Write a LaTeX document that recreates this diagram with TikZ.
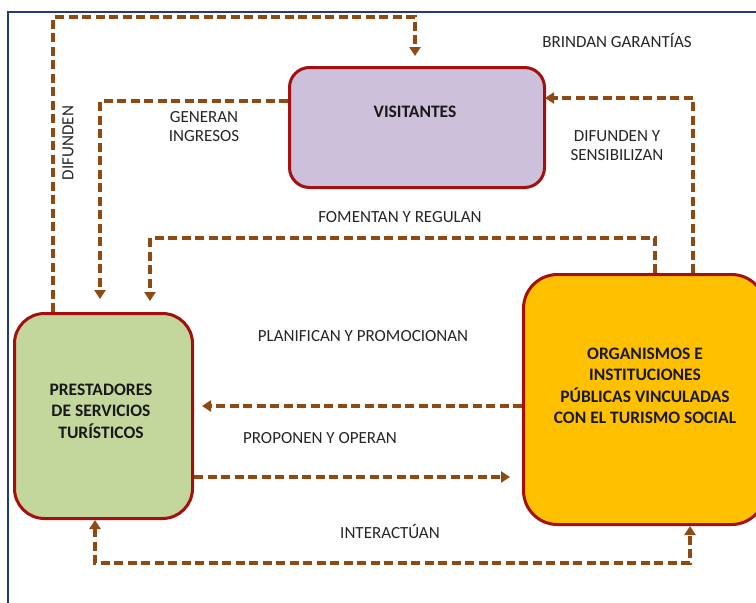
\documentclass[tikz,border=0pt]{standalone}
\usepackage{fontspec}
\setmainfont{Carlito}
\usetikzlibrary{arrows.meta}
\definecolor{arrbrown}{HTML}{8F4A14}
\definecolor{boxred}{HTML}{A50F0F}
\definecolor{frameblue}{HTML}{203D7A}
\definecolor{visfill}{HTML}{CCC0DA}
\definecolor{prefill}{HTML}{C3D69B}
\definecolor{orgfill}{HTML}{FFC000}
\begin{document}
\begin{tikzpicture}[x=1pt,y=-1pt,
  >={Triangle[length=9pt,width=11pt]},
  box/.style={draw=boxred,line width=3pt,inner sep=0pt,anchor=north west},
  flow/.style={draw=arrbrown,line width=3.5pt,dash pattern=on 9pt off 4.5pt,->},
  lbl/.style={font=\fontsize{17}{19}\selectfont,text=black!85,align=center},
  blbl/.style={font=\fontsize{17.5}{21.5}\selectfont\bfseries,text=black!90,align=center}]
\useasboundingbox (0,0) rectangle (756,603);
\clip (0,0) rectangle (756,603);
\fill[white] (0,0) rectangle (756,603);
% frame
\draw[frameblue,line width=1.5pt] (8,610) -- (8,12) -- (760,12);
% boxes
\node[box,fill=visfill,rounded corners=20pt,minimum width=255pt,minimum height=120pt] (vis) at (288,66) {};
\node[box,fill=prefill,rounded corners=30pt,minimum width=178pt,minimum height=205pt] (pre) at (13,312) {};
\node[box,fill=orgfill,rounded corners=34pt,minimum width=242pt,minimum height=250pt] (org) at (522,273) {};
% box texts
\node[blbl] (tvis) at (415,112) {VISITANTES};
\node[blbl] (tpre) at (101,411) {PRESTADORES\\DE SERVICIOS\\TURÍSTICOS};
\node[blbl] (torg) at (645,386) {ORGANISMOS E\\INSTITUCIONES\\PÚBLICAS VINCULADAS\\CON EL TURISMO SOCIAL};
% connectors
\coordinate (d1) at (53,17); \coordinate (d2) at (415,17);
\draw[flow,shorten >=10pt] (d1 |- pre.north) -- (d1) -- (d2) -- (d2 |- vis.north);
\coordinate (g1) at (100,101);
\draw[flow,shorten >=13pt] (vis.west |- g1) -- (g1) -- (g1 |- pre.north);
\coordinate (f1) at (655,238); \coordinate (f2) at (150,238);
\draw[flow,shorten >=11pt] (f1 |- org.north) -- (f1) -- (f2) -- (f2 |- pre.north);
\coordinate (b1) at (693,98);
\draw[flow,shorten >=-1pt] (b1 |- org.north) -- (b1) -- (b1 -| vis.east);
\coordinate (p1) at (0,406);
\draw[flow,shorten >=8pt] (org.west |- p1) -- (p1 -| pre.east);
\coordinate (q1) at (0,477);
\draw[flow,shorten >=12pt] (pre.east |- q1) -- (q1 -| org.west);
\coordinate (i1) at (95,563); \coordinate (i2) at (690,563);
\draw[flow,<->] (i1 |- pre.south) -- (i1) -- (i2) -- (i2 |- org.south);
% labels
\node[lbl,rotate=90] (l1) at (68,143) {DIFUNDEN};
\node[lbl] (l2) at (204,127) {GENERAN\\INGRESOS};
\node[lbl] (l3) at (617,40) {BRINDAN GARANTÍAS};
\node[lbl] (l4) at (617,146) {DIFUNDEN Y\\SENSIBILIZAN};
\node[lbl] (l5) at (400,217) {FOMENTAN Y REGULAN};
\node[lbl] (l6) at (363,336) {PLANIFICAN Y PROMOCIONAN};
\node[lbl] (l7) at (320,438) {PROPONEN Y OPERAN};
\node[lbl] (l8) at (390,531) {INTERACTÚAN};
\end{tikzpicture}
\end{document}
